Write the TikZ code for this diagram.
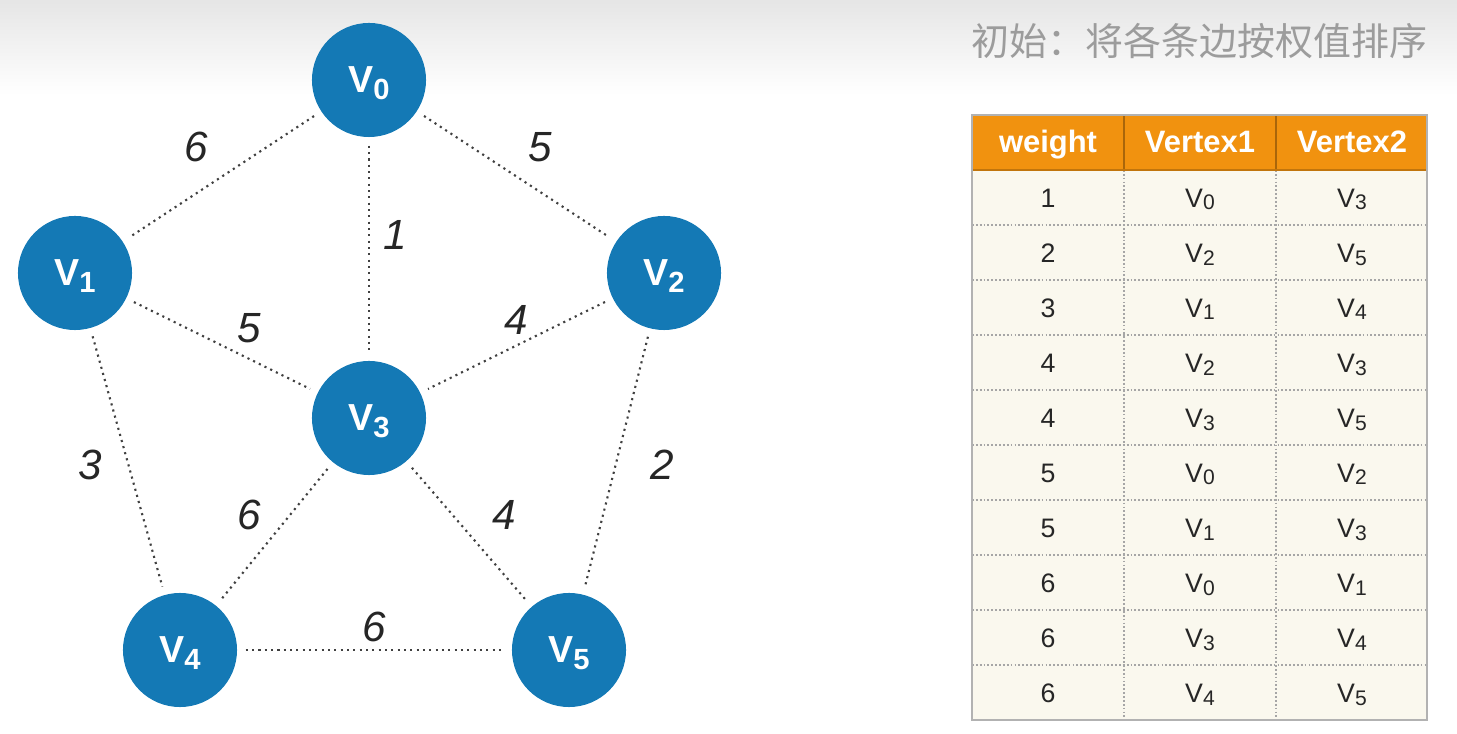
\documentclass[tikz,border=0pt]{standalone}
\usepackage{fontspec}
\setsansfont{Liberation Sans}
\newfontfamily\cjk{Noto Sans CJK SC}
\usepackage{xcolor}
\usepackage{tikz}
\usetikzlibrary{positioning}
\definecolor{vtxBlue}{HTML}{1479B5}
\definecolor{hdrOrange}{HTML}{F1920F}
\definecolor{cellCream}{HTML}{FAF8EE}
\definecolor{titleGray}{HTML}{9C9C9C}
% vertex name with a lowered index: \vlab{index}{index size}{drop}
\newcommand{\vlab}[3]{V\smash{\raisebox{-#3}{\fontsize{#2}{#2}\selectfont #1}}}

\begin{document}
\begin{tikzpicture}[x=0.01cm, y=-0.01cm, font=\sffamily,
  vtx/.style={circle, fill=vtxBlue, text=white, minimum size=1.14cm, inner sep=0pt,
    font=\sffamily\bfseries\fontsize{10.7}{12}\selectfont},
  edg/.style={draw=black!75, line width=0.6pt, dash pattern=on 0.6pt off 1.2pt,
    shorten <=0.8mm, shorten >=0.8mm},
  wlbl/.style={font=\sffamily\itshape\fontsize{12}{14}\selectfont, text=black!85},
  hdr/.style={font=\sffamily\bfseries\fontsize{8.8}{10}\selectfont, text=white,
    text height=0.72em, text depth=0.2em},
  cellt/.style={font=\sffamily\fontsize{7.6}{9}\selectfont, text=black!85}]
\useasboundingbox (0,0) rectangle (1457,734);
\shade[top color=black!10, bottom color=white] (0,0) rectangle (1457,95);
% title
\node[anchor=east, text=titleGray, font=\cjk\fontsize{10.8}{12}\selectfont] (title) at (1440,41) {初始：将各条边按权值排序};
% vertices
\node[vtx] (v0) at (369,80) {\vlab{0}{8.3}{2pt}};
\node[vtx] (v1) at (75,273) {\vlab{1}{8.3}{2pt}};
\node[vtx] (v2) at (664,273) {\vlab{2}{8.3}{2pt}};
\node[vtx] (v3) at (369,418) {\vlab{3}{8.3}{2pt}};
\node[vtx] (v4) at (180,650) {\vlab{4}{8.3}{2pt}};
\node[vtx] (v5) at (569,650) {\vlab{5}{8.3}{2pt}};
% edges
\foreach \a/\b in {v0/v1, v0/v2, v0/v3, v1/v3, v2/v3, v1/v4, v2/v5, v3/v4, v3/v5, v4/v5}
  \draw[edg] (\a) -- (\b);
% weights
\node[wlbl] (w01) at (196,147) {6};
\node[wlbl] (w02) at (540,147) {5};
\node[wlbl] (w03) at (395,235) {1};
\node[wlbl] (w13) at (249,328) {5};
\node[wlbl] (w23) at (516,320) {4};
\node[wlbl] (w14) at (90,465) {3};
\node[wlbl] (w25) at (662,465) {2};
\node[wlbl] (w34) at (249,515) {6};
\node[wlbl] (w35) at (504,515) {4};
\node[wlbl] (w45) at (374,627) {6};
% table
\fill[cellCream] (972,170) rectangle (1427,720);
\fill[hdrOrange] (972,115) rectangle (1427,170);
\foreach \k in {1,...,9}
  \draw[black!35, line width=0.4pt, dash pattern=on 0.5pt off 0.6pt] (972,170+55*\k) -- (1427,170+55*\k);
\foreach \x in {1124,1276}{
  \draw[black!35, line width=0.4pt, dash pattern=on 0.5pt off 0.6pt] (\x,170) -- (\x,720);
  \draw[hdrOrange!70!black, line width=0.4pt] (\x,115) -- (\x,170);
}
\draw[hdrOrange!80!black, line width=0.5pt] (972,170) -- (1427,170);
\draw[black!30, line width=0.8pt] (972,115) rectangle (1427,720);
\node[hdr] (h1) at (1048,143) {weight};
\node[hdr] (h2) at (1200,143) {Vertex1};
\node[hdr] (h3) at (1352,143) {Vertex2};
\foreach \w/\a/\b [count=\i] in {1/0/3, 2/2/5, 3/1/4, 4/2/3, 4/3/5, 5/0/2, 5/1/3, 6/0/1, 6/3/4, 6/4/5}{
  \node[cellt] (c\i w) at (1048,143+55*\i) {\w};
  \node[cellt] (c\i a) at (1200,143+55*\i) {\vlab{\a}{6}{0.8pt}};
  \node[cellt] (c\i b) at (1352,143+55*\i) {\vlab{\b}{6}{0.8pt}};
}
\end{tikzpicture}
\end{document}
